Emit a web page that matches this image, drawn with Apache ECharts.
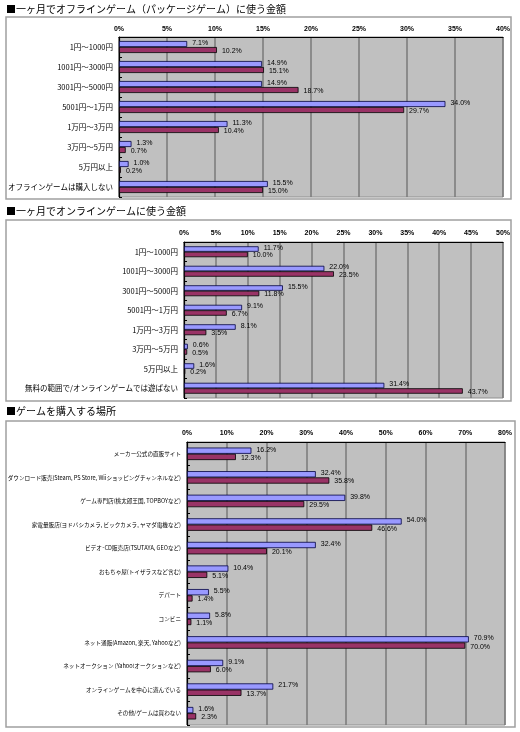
<!DOCTYPE html>
<html><head><meta charset="utf-8">
<script src="https://cdn.jsdelivr.net/npm/echarts@6.0.0/dist/echarts.min.js"></script>
<style>html,body{margin:0;padding:0;background:#fff;}#c{width:520px;height:732px;}</style>
</head><body><div id="c"></div>
<script>
const chartTitles = [
  '■一ヶ月でオフラインゲーム（パッケージゲーム）に使う金額',
  '■一ヶ月でオンラインゲームに使う金額',
  '■ゲームを購入する場所'
];
const offlineCats = ['1円～1000円','1001円～3000円','3001円～5000円','5001円～1万円','1万円～3万円','3万円～5万円','5万円以上','オフラインゲームは購入しない'];
const offlineA = [7.1, 14.9, 14.9, 34.0, 11.3, 1.3, 1.0, 15.5];
const offlineB = [10.2, 15.1, 18.7, 29.7, 10.4, 0.7, 0.2, 15.0];

const onlineCats = ['1円～1000円','1001円～3000円','3001円～5000円','5001円～1万円','1万円～3万円','3万円～5万円','5万円以上','無料の範囲で/オンラインゲームでは遊ばない'];
const onlineA = [11.7, 22.0, 15.5, 9.1, 8.1, 0.6, 1.6, 31.4];
const onlineB = [10.0, 23.5, 11.8, 6.7, 3.5, 0.5, 0.2, 43.7];

const placeCats = ['メーカー公式の直販サイト','ダウンロード販売(Steam, PS Store, Wiiショッピングチャンネルなど)','ゲーム専門店(桃太郎王国, TOPBOYなど)','家電量販店(ヨドバシカメラ, ビックカメラ, ヤマダ電機など)','ビデオ･CD販売店(TSUTAYA, GEOなど)','おもちゃ屋(トイザラスなど含む)','デパート','コンビニ','ネット通販(Amazon, 楽天, Yahooなど)','ネットオークション (Yahoo!オークションなど)','オンラインゲームを中心に遊んでいる','その他/ゲームは買わない'];
const placeA = [16.2, 32.4, 39.8, 54.0, 32.4, 10.4, 5.5, 5.8, 70.9, 9.1, 21.7, 1.6];
const placeB = [12.3, 35.8, 29.5, 46.6, 20.1, 5.1, 1.4, 1.1, 70.0, 6.0, 13.7, 2.3];

const axisMax = [40, 50, 80];
const axisStep = [5, 5, 10];

const JP = '"Noto Sans CJK JP", sans-serif';
const colA = '#9999ff', colB = '#993366';

const grids = [
  {left:119, top:37, width:384, height:160},
  {left:184, top:242, width:319, height:156},
  {left:187, top:442, width:318, height:283}
];
const catSets = [offlineCats, onlineCats, placeCats];
const dataA = [offlineA, onlineA, placeA];
const dataB = [offlineB, onlineB, placeB];
const catFont = [7.5, 7.5, 5.6];
const gaps = ['40%', '44%', '47%'];
const xMargin = [4, 5, 5];

const chart = echarts.init(document.getElementById('c'), null, {renderer:'canvas'});

const gridOpts = grids.map(g => Object.assign({show:true, backgroundColor:'#c0c0c0', borderColor:'#909090', borderWidth:1, containLabel:false}, g));
const xAxes = grids.map((g,i) => ({
  type:'value', gridIndex:i, position:'top', min:0, max:axisMax[i], interval:axisStep[i],
  axisLine:{show:true, onZero:false, lineStyle:{color:'#000', width:1.2}},
  axisTick:{show:false},
  axisLabel:{formatter:'{value}%', fontSize:7, fontWeight:'bold', color:'#000', fontFamily:'Arial, "Liberation Sans", sans-serif', margin:xMargin[i]},
  splitLine:{show:true, lineStyle:{color:'#7a7a7a', width:1.5}}
}));
const yAxes = grids.map((g,i) => ({
  type:'category', gridIndex:i, inverse:true, data:catSets[i],
  axisLine:{show:true, lineStyle:{color:'#000', width:1.2}},
  axisTick:{show:true, inside:true, length:3, lineStyle:{color:'#000'}},
  axisLabel:{fontSize:catFont[i], color:'#000', fontFamily:JP, margin:6},
  splitLine:{show:false}
}));
const lbl = (off) => ({show:true, position:'right', distance:5, offset:[0,off], fontSize:7, color:'#000', fontFamily:'Arial, "Liberation Sans", sans-serif',
  formatter: p => p.value.toFixed(1) + '%'});
const series = [];
grids.forEach((g,i) => {
  series.push({type:'bar', name:'系列1', xAxisIndex:i, yAxisIndex:i, data:dataA[i], barGap:'0%', barCategoryGap:gaps[i],
    itemStyle:{color:colA, borderColor:'#000040', borderWidth:0.8}, label:lbl(-1), silent:true, animation:false});
  series.push({type:'bar', name:'系列2', xAxisIndex:i, yAxisIndex:i, data:dataB[i], barGap:'0%', barCategoryGap:gaps[i],
    itemStyle:{color:colB, borderColor:'#000', borderWidth:0.8}, label:lbl(1), silent:true, animation:false});
});

const titleTops = [4, 206, 406];
const titleOpts = chartTitles.map((t,i) => ({text:t, left:6, top:titleTops[i], padding:0, textStyle:{fontSize:10, fontWeight:'normal', color:'#000', fontFamily:JP}}));

const boxes = [
  {x:6, y:17, w:505, h:182},
  {x:6, y:220, w:505, h:181},
  {x:6, y:421, w:509, h:306}
];
const graphic = boxes.map(b => ({type:'rect', z:-10, shape:{x:b.x, y:b.y, width:b.w, height:b.h}, style:{fill:'#fff', stroke:'#a0a0a0', lineWidth:1.5}, silent:true}));

chart.setOption({
  animation:false,
  backgroundColor:'#fff',
  title:titleOpts,
  graphic:graphic,
  grid:gridOpts,
  xAxis:xAxes,
  yAxis:yAxes,
  series:series
});
</script></body></html>
